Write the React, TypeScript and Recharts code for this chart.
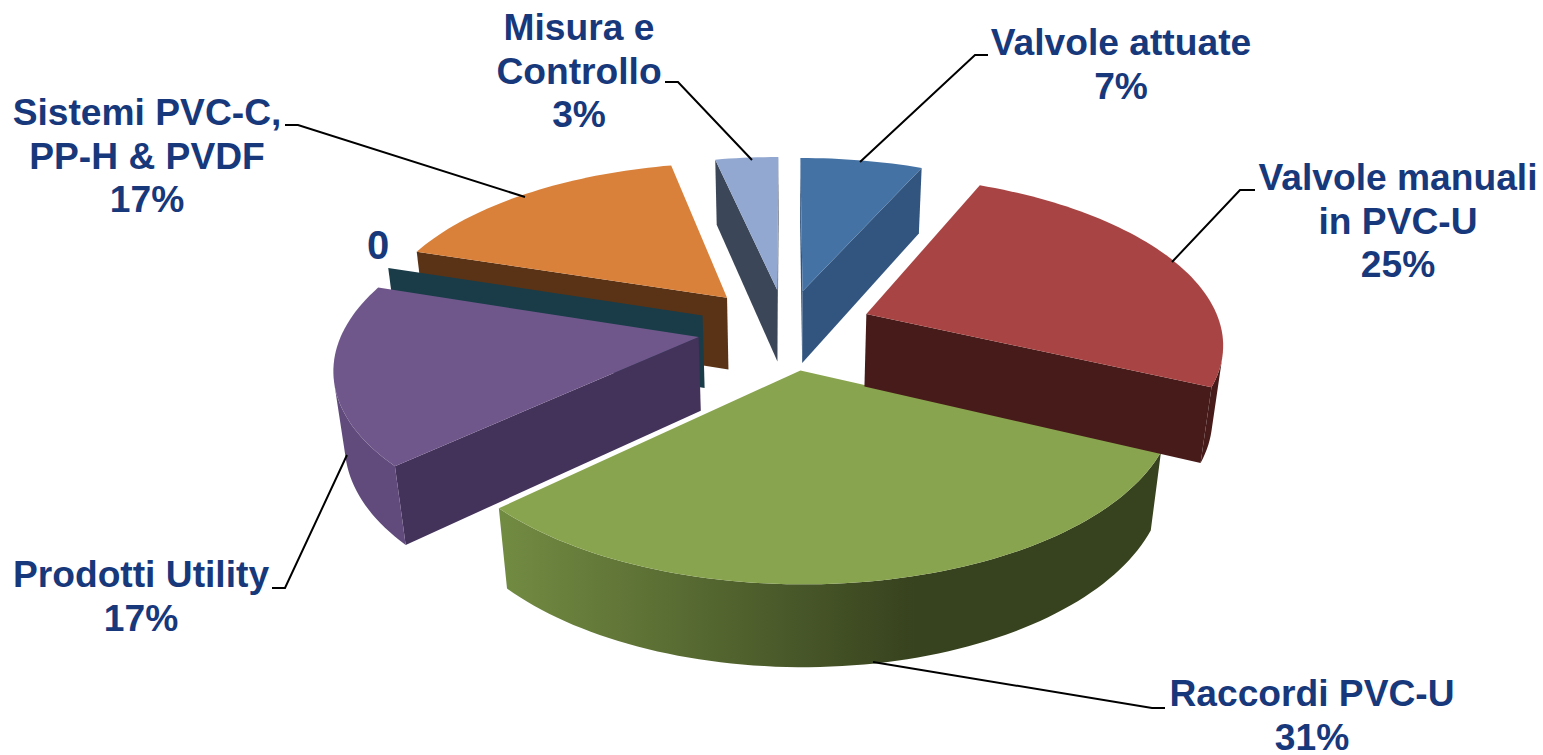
import { PieChart, Pie } from "recharts";

// listed counter-clockwise from 12 o'clock so the front slices paint last
const categories = ["Misura e Controllo", "Sistemi PVC-C, PP-H & PVDF", "Serie 0", "Prodotti Utility", "Raccordi PVC-U", "Valvole manuali in PVC-U", "Valvole attuate"];
const values = [3.4, 16.6, 0, 17, 31, 25.4, 6.6];
const labelLines = [["Misura e", "Controllo"], ["Sistemi PVC-C,", "PP-H & PVDF"], [], ["Prodotti Utility"], ["Raccordi PVC-U"], ["Valvole manuali", "in PVC-U"], ["Valvole attuate"]];

const topColors = ["#93a8d0", "#d9803a", "#1f5a6b", "#70578b", "#89a44e", "#a84544", "#4472a5"];
const wallColors = ["#3b4658", "#5a3316", "#1a3c48", "#43325a", "#37421e", "#461b19", "#32557f"];
const rimLight = ["#3b4658", "#5a3316", "#1a3c48", "#614b7c", "#728b42", "#461b19", "#32557f"];
const explode = [0.24, 0.255, 0.25, 0.25, 0.25, 0.245, 0.235];

const pieData = categories.map((name, i) => ({ name, value: values[i] }));

// label anchors: centre x, first baseline, leader polyline
const labelLayout = [
    { x: 579, y: 40, leader: [[752, 160], [678, 82], [665, 82]] },
    { x: 147, y: 125, leader: [[525, 197], [298, 125], [285, 125]] },
    { x: 378, y: 259, leader: [] },
    { x: 141, y: 587, leader: [[347, 455], [285, 588], [272, 588]] },
    { x: 1312, y: 706, leader: [[873, 662], [1152, 708], [1165, 708]] },
    { x: 1398, y: 190, leader: [[1172, 262], [1240, 190], [1255, 190]] },
    { x: 1121, y: 55, leader: [[860, 162], [975, 55], [988, 55]] },
];

const TILT = 0.465;
const PERSPECTIVE = 0.158;
const DEPTH = 75;
const DEPTH_SHRINK = 0.025;
const RAD = Math.PI / 180;

const Slice3D = (props: any) => {
    const { cx, cy, outerRadius, startAngle, endAngle, name } = props;
    const i = categories.indexOf(name);
    const mid = ((startAngle + endAngle) / 2) * RAD;
    const ox = explode[i] * Math.cos(mid);
    const oy = -explode[i] * Math.sin(mid);

    const project = (xd: number, yd: number, z: number) => {
        const s = 1 / (1 - PERSPECTIVE * yd + DEPTH_SHRINK * z);
        return [cx + outerRadius * xd * s, cy + outerRadius * TILT * yd * s + DEPTH * z * s];
    };
    const rim = (deg: number, z: number) => project(ox + Math.cos(deg * RAD), oy - Math.sin(deg * RAD), z);
    const apex = (z: number) => project(ox, oy, z);

    const steps = Math.max(1, Math.ceil(Math.abs(endAngle - startAngle) / 1.5));
    const angles = Array.from({ length: steps + 1 }, (_, k) => startAngle + ((endAngle - startAngle) * k) / steps);
    const pts = (list: number[][]) => list.map((p) => p.join(",")).join(" ");

    const facesViewer = (q: number[][]) => {
        let area = 0;
        q.forEach((p, k) => {
            const n = q[(k + 1) % q.length];
            area += p[0] * n[1] - n[0] * p[1];
        });
        return area > 0;
    };

    const flatWall = (a: number[], b: number[], a2: number[], b2: number[], key: string) => {
        const q = [a, b, b2, a2];
        return facesViewer(q) ? <polygon key={key} points={pts(q)} fill={wallColors[i]} /> : null;
    };

    // the part of the curved wall that faces the viewer, as one shape with a left-to-right shade
    const seen = angles.filter((a, k) => {
        const b = angles[k + 1] ?? a;
        const c = angles[k - 1] ?? a;
        const q1 = [rim(a, 0), rim(b, 0), rim(b, 1), rim(a, 1)];
        const q2 = [rim(c, 0), rim(a, 0), rim(a, 1), rim(c, 1)];
        return (b !== a && facesViewer(q1)) || (c !== a && facesViewer(q2));
    });
    const gradientId = `rim-${i}`;

    return (
        <g>
            <defs>
                <linearGradient id={gradientId} gradientUnits="userSpaceOnUse" x1={cx - 284} y1={0} x2={cx + 130} y2={0}>
                    <stop offset="0%" stopColor={rimLight[i]} />
                    <stop offset="100%" stopColor={wallColors[i]} />
                </linearGradient>
            </defs>
            {flatWall(apex(0), rim(startAngle, 0), apex(1), rim(startAngle, 1), "in")}
            {flatWall(rim(endAngle, 0), apex(0), rim(endAngle, 1), apex(1), "out")}
            {seen.length > 1 && (
                <polygon
                    points={pts([...seen.map((a) => rim(a, 0)), ...[...seen].reverse().map((a) => rim(a, 1))])}
                    fill={`url(#${gradientId})`}
                />
            )}
            <polygon points={pts([apex(0), ...angles.map((a) => rim(a, 0))])} fill={topColors[i]} />
        </g>
    );
};

const SliceLabel = (props: any) => {
    const i = categories.indexOf(props.name);
    const { x, y, leader } = labelLayout[i];
    const zero = values[i] === 0;
    const lines = zero ? ["0"] : [...labelLines[i], `${Math.round(values[i])}%`];
    return (
        <g>
            {leader.length > 0 && (
                <polyline points={leader.map((p) => p.join(",")).join(" ")} fill="none" stroke="#000" strokeWidth={2} />
            )}
            <text
                textAnchor="middle"
                fontFamily="Liberation Sans, Arial, sans-serif"
                fontWeight={700}
                fontSize={zero ? 40 : 37.2}
                fill="#17387b"
            >
                {lines.map((line, k) => (
                    <tspan key={k} x={x} y={y + k * 43.5}>{line}</tspan>
                ))}
            </text>
        </g>
    );
};

export default function App() {
    return (
        <div style={{ position: "absolute", left: 0, top: 0, width: 1543, height: 755, background: "#fff" }}>
            <PieChart width={1543} height={755} margin={{ top: 0, right: 0, bottom: 0, left: 0 }}>
                <Pie
                    data={pieData}
                    dataKey="value"
                    nameKey="name"
                    cx={786}
                    cy={328}
                    outerRadius={355}
                    startAngle={90}
                    endAngle={450}
                    paddingAngle={0}
                    stroke="none"
                    shape={Slice3D}
                    activeShape={Slice3D}
                    inactiveShape={Slice3D}
                    label={SliceLabel}
                    labelLine={false}
                    isAnimationActive={false}
                />
            </PieChart>
        </div>
    );
}
